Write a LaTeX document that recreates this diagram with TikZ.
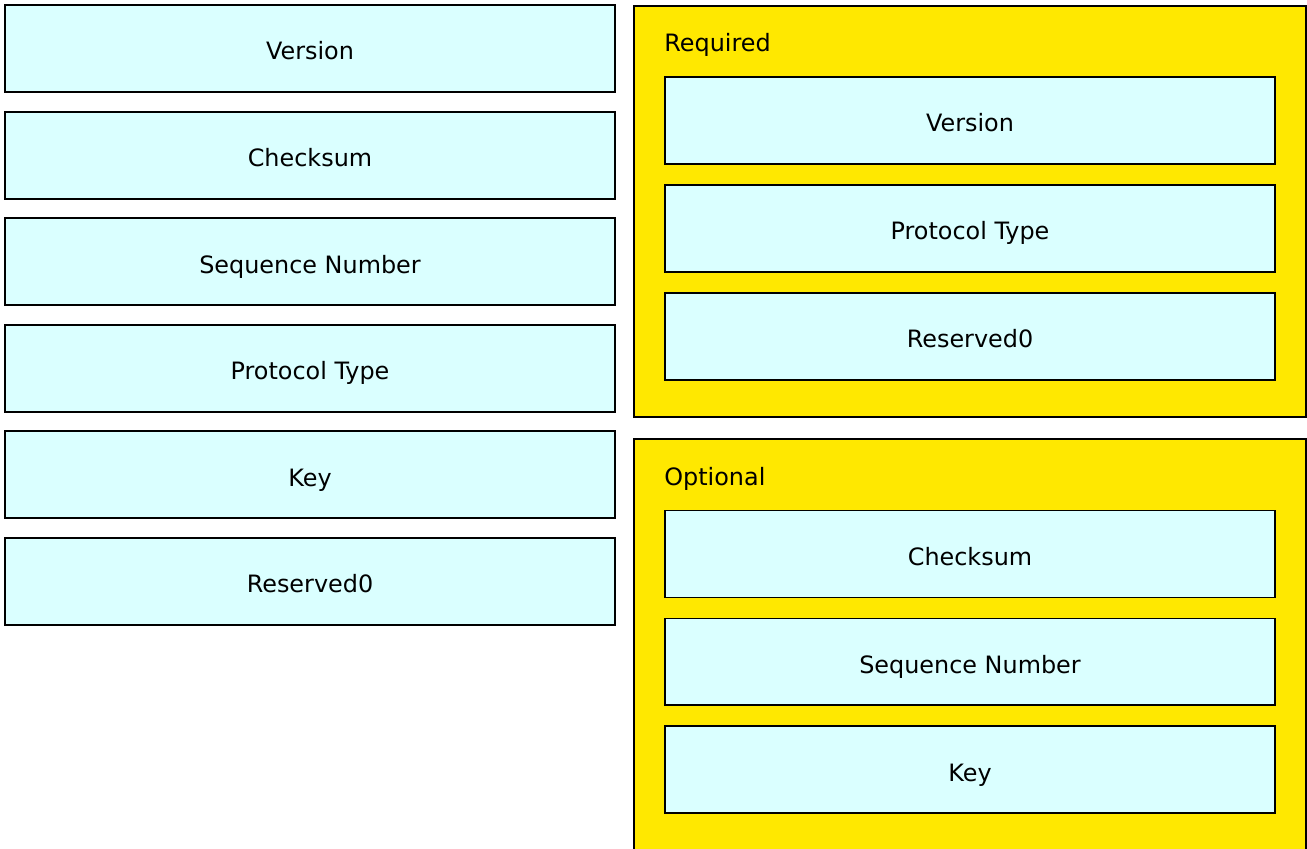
\documentclass[tikz,border=0pt]{standalone}
\usepackage{fontspec}
\setmainfont{DejaVu Sans}
\usepackage{xcolor}
\usepackage{tikz}
\usetikzlibrary{positioning,calc}
\definecolor{fieldCyan}{HTML}{DAFFFF}
\definecolor{groupYellow}{HTML}{FFE800}
\tikzset{
  fieldBox/.style={
    rectangle,
    draw=black,
    line width=1.1pt,
    fill=fieldCyan,
    minimum width=12.2cm,
    minimum height=1.74cm,
    text height=13.5pt,
    text depth=0.5pt,
    font=\fontsize{13.6}{16}\selectfont,
    align=center
  },
  groupBox/.style={
    rectangle,
    draw=black,
    line width=1.1pt,
    fill=groupYellow,
    minimum width=13.44cm,
    anchor=north west
  },
  groupLabel/.style={
    anchor=west,
    inner sep=0pt,
    font=\fontsize{13.6}{16}\selectfont
  }
}

\begin{document}
\begin{tikzpicture}[x=0.02cm,y=-0.02cm]
        \useasboundingbox (0,0) rectangle (1307,848);

        % all fields, left column
        \node[fieldBox] (lVersion) at (310,48.5) {Version};
        \node[fieldBox, below=0.353cm of lVersion] (lChecksum) {Checksum};
        \node[fieldBox, below=0.353cm of lChecksum] (lSequence) {Sequence Number};
        \node[fieldBox, below=0.353cm of lSequence] (lProtocol) {Protocol Type};
        \node[fieldBox, below=0.353cm of lProtocol] (lKey) {Key};
        \node[fieldBox, below=0.353cm of lKey] (lReserved) {Reserved0};

        % required group
        \node[groupBox, minimum height=8.22cm] (required) at (633,5) {};
        \node[groupLabel] (reqLabel) at ($(required.north west)+(31,40)$) {Required};
        \node[fieldBox] (rVersion) at (970,120.5) {Version};
        \node[fieldBox, below=0.381cm of rVersion] (rProtocol) {Protocol Type};
        \node[fieldBox, below=0.381cm of rProtocol] (rReserved) {Reserved0};

        % optional group
        \node[groupBox, minimum height=8.4cm] (optional) at (633,438) {};
        \node[groupLabel] (optLabel) at ($(optional.north west)+(31,41)$) {Optional};
        \node[fieldBox] (oChecksum) at (970,554) {Checksum};
        \node[fieldBox, below=0.381cm of oChecksum] (oSequence) {Sequence Number};
        \node[fieldBox, below=0.381cm of oSequence] (oKey) {Key};
    \end{tikzpicture}
\end{document}
